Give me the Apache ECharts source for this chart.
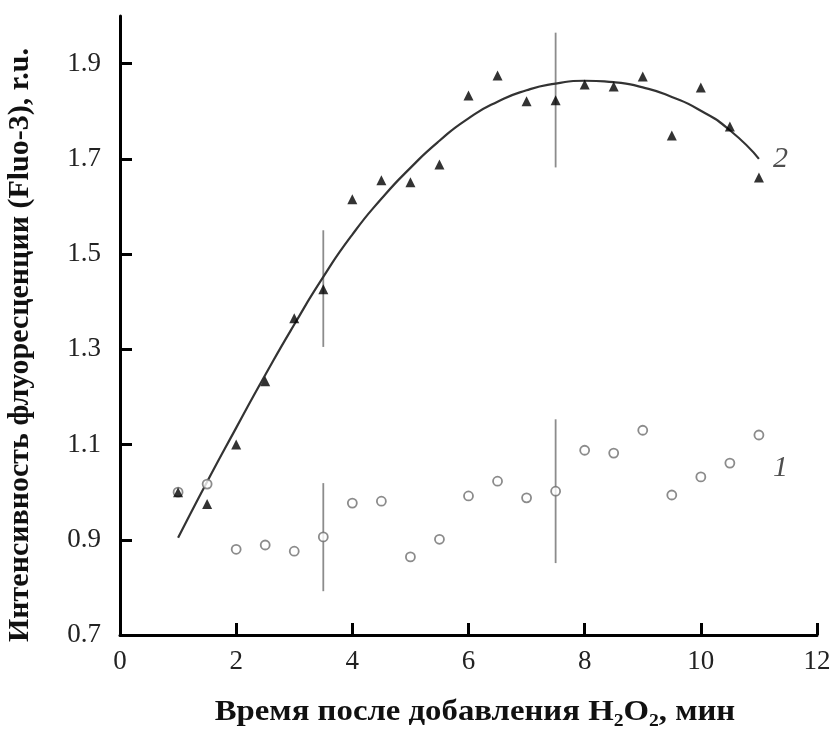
<!DOCTYPE html>
<html><head><meta charset="utf-8">
<script src="https://cdn.jsdelivr.net/npm/echarts@6/dist/echarts.min.js"></script>
<style>html,body{margin:0;padding:0;background:#fff}#c{width:837px;height:729px}</style>
</head><body><div id="c"></div>
<script>
var xs = [1,1.5,2,2.5,3,3.5,4,4.5,5,5.5,6,6.5,7,7.5,8,8.5,9,9.5,10,10.5,11];
var series2 = [1.00,0.975,1.10,1.233,1.365,1.426,1.615,1.655,1.651,1.688,1.833,1.875,1.821,1.823,1.856,1.852,1.873,1.749,1.850,1.768,1.661];
var series1 = [1.00,1.017,0.880,0.889,0.876,0.906,0.977,0.981,0.864,0.901,0.992,1.023,0.988,1.002,1.088,1.082,1.130,0.994,1.032,1.061,1.120];
var fitX = [1,1.5,2,2.5,3,3.5,4,4.5,5,5.5,6,6.5,7,7.5,8,8.5,9,9.5,10,10.5,11];
var fitY = [0.904,1.022,1.135,1.246,1.352,1.452,1.541,1.616,1.681,1.738,1.785,1.820,1.844,1.858,1.864,1.861,1.850,1.830,1.801,1.760,1.700];
var err2X = [3.5,7.5], err2Lo = [1.305,1.682], err2Hi = [1.55,1.965];
var err1X = [3.5,7.5], err1Lo = [0.792,0.851], err1Hi = [1.019,1.153];
var xTicks = [0,2,4,6,8,10,12];
var yTicks = [0.7,0.9,1.1,1.3,1.5,1.7,1.9];
var yTickLabels = ['0.7','0.9','1.1','1.3','1.5','1.7','1.9'];
var curveLabels = [{x:11, y:1.70, text:'2'},{x:11, y:1.05, text:'1'}];
var xTitle = 'Время после добавления H\u2082O\u2082, мин';
var yTitle = 'Интенсивность флуоресценции (Fluo-3), r.u.';

var font = '"Liberation Serif", "DejaVu Serif", serif';
function pairs(a,b){return a.map(function(v,i){return [v,b[i]];});}
function errData(x,lo,hi){return x.map(function(v,i){return [v,lo[i],hi[i]];});}
function errRender(params, api){
  var p1 = api.coord([api.value(0), api.value(1)]);
  var p2 = api.coord([api.value(0), api.value(2)]);
  return {type:'line', shape:{x1:p1[0],y1:p1[1],x2:p2[0],y2:p2[1]}, style:{stroke:'#8c8c8c', lineWidth:1.8}};
}
var chart = echarts.init(document.getElementById('c'), null, {renderer:'canvas'});
chart.setOption({
  backgroundColor:'#fff',
  animation:false,
  grid:{left:120, right:20, top:16, bottom:94},
  xAxis:{type:'value', min:0, max:12, interval:2,
    axisLine:{lineStyle:{color:'#000', width:3}},
    axisTick:{inside:true, length:12, lineStyle:{color:'#000', width:3}, customValues:xTicks},
    axisLabel:{customValues:xTicks, color:'#222', fontFamily:font, fontSize:27, margin:13},
    splitLine:{show:false}
  },
  yAxis:{type:'value', min:0.7, max:2.0,
    axisLine:{show:true, lineStyle:{color:'#000', width:3}},
    axisTick:{show:true, inside:true, length:12, lineStyle:{color:'#000', width:3}, customValues:yTicks},
    axisLabel:{customValues:yTicks, formatter:function(v){var i=yTicks.indexOf(Math.round(v*10)/10);return i>=0?yTickLabels[i]:'';}, color:'#222', fontFamily:font, fontSize:27, margin:19},
    splitLine:{show:false}
  },
  graphic:[
    {type:'text', x:475, y:713, scaleX:1.13, silent:true,
      style:{text:xTitle, font:'bold 29px ' + font, fill:'#111', align:'center', verticalAlign:'middle'}},
    {type:'text', x:20, y:345, rotation:Math.PI/2, silent:true,
      style:{text:yTitle, font:'bold 30px ' + font, fill:'#111', align:'center', verticalAlign:'middle'}}
  ],
  series:[
    {type:'line', data:pairs(fitX,fitY), smooth:0.6, showSymbol:false, lineStyle:{color:'#333', width:2.2}, z:2},
    {type:'custom', data:errData(err2X,err2Lo,err2Hi), renderItem:errRender, z:1},
    {type:'custom', data:errData(err1X,err1Lo,err1Hi), renderItem:errRender, z:1},
    {type:'scatter', data:pairs(xs,series1), symbol:'circle', symbolSize:9,
      itemStyle:{color:'#fff', borderColor:'#6e6e6e', borderWidth:1.8}, z:3},
    {type:'scatter', data:pairs(xs,series2), symbol:'triangle', symbolSize:10,
      itemStyle:{color:'#000'}, z:4},
    {type:'scatter', data:curveLabels.map(function(d){return {value:[d.x,d.y], label:{formatter:d.text}};}),
      symbolSize:0, silent:true,
      label:{show:true, position:'right', distance:14, fontFamily:font, fontStyle:'italic', fontSize:30, color:'#222'}, z:5}
  ]
});
</script></body></html>
